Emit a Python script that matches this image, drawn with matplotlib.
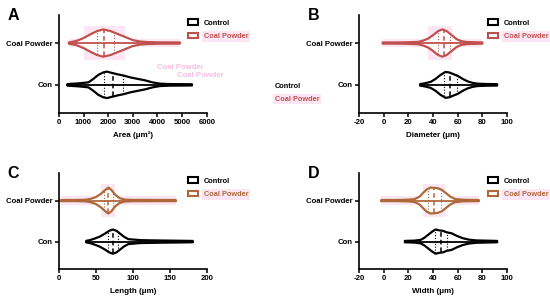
import numpy as np
import matplotlib.pyplot as plt
from matplotlib.patches import Patch, Rectangle

plt.rcParams['font.family'] = ['Liberation Sans', 'DejaVu Sans']
plt.rcParams['font.weight'] = 'bold'
plt.rcParams['axes.unicode_minus'] = False

groups = ['Con', 'Coal Powder']
red = '#c0504d'
brown = '#b0683a'
pink = '#fde6f3'

# violin outlines: value positions and half-widths (px)
area_con_x = [350, 800, 1200, 1400, 1600, 1800, 1950, 2150, 2400, 2600, 2900, 3200, 3500, 3800, 4100, 4500, 5400]
area_con_w = [0.8, 1.5, 2.5, 6, 10, 12.5, 13.3, 12, 10.5, 9.5, 7.5, 6, 4.5, 2.5, 1.2, 0.8, 0.6]
area_cp_x = [400, 700, 1000, 1300, 1550, 1800, 2100, 2400, 2700, 3000, 3300, 3600, 4000, 4900]
area_cp_w = [0.6, 2, 5, 9, 12, 13.7, 12, 9, 6, 3, 1.5, 1, 0.7, 0.6]
area_con_q = [1840, 2200, 2610]
area_cp_q = [1530, 1820, 2240]

dia_con_x = [29.5, 33, 38, 42, 46, 50, 53, 56, 60, 64, 68, 72, 76, 82, 92]
dia_con_w = [0.8, 1.5, 3, 6, 10, 13, 12.5, 11, 9, 6, 3.5, 2, 1.2, 0.9, 0.7]
dia_cp_x = [-1, 10, 20, 28, 32, 36, 40, 44, 47.5, 51, 55, 59, 63, 68, 80]
dia_cp_w = [0.6, 0.6, 0.8, 1.2, 2.5, 4.5, 8, 12, 13.7, 12, 8, 4, 1.8, 1, 0.6]
dia_con_q = [48.5, 54, 59]
dia_cp_q = [44, 48.5, 54]

len_con_x = [37, 42, 48, 55, 62, 68, 73, 78, 83, 88, 94, 110, 130, 150, 181]
len_con_w = [0.8, 1.5, 3, 5, 8, 11, 12.4, 11, 8, 5, 2.5, 1.5, 1.2, 1, 0.7]
len_cp_x = [3, 20, 35, 42, 50, 57, 63, 67, 71, 76, 82, 89, 100, 158]
len_cp_w = [0.6, 0.6, 0.8, 1.5, 3.5, 7, 11, 13.3, 11, 6, 2.5, 1, 0.7, 0.6]
len_con_q = [66.7, 73.4, 80]
len_cp_q = [61.3, 66.7, 73.4]

wid_con_x = [17, 25, 30, 33, 36, 39, 42, 45, 48, 51, 55, 59, 64, 69, 75, 82, 92]
wid_con_w = [0.7, 1, 1.8, 4, 7, 10, 12.4, 11.5, 11, 9.5, 8.5, 6, 3.5, 2, 1.2, 1, 0.7]
wid_cp_x = [-2, 10, 20, 25, 29, 32, 35, 38, 41, 44, 47, 50, 54, 58, 65, 77]
wid_cp_w = [0.6, 0.6, 0.9, 1.5, 4, 8, 11.5, 13.3, 13, 12.5, 11, 8, 4, 1.5, 0.8, 0.6]
wid_con_q = [41.5, 46, 51]
wid_cp_q = [35.7, 41, 46.5]

PX = 42.0  # pixels between the two categories


def violin(ax, pos, xs, ws, qs, color):
    xs = np.array(xs, float)
    hw = np.array(ws, float) / PX
    ax.fill_between(xs, pos - hw, pos + hw, color='white', zorder=2)
    ax.plot(xs, pos + hw, color=color, lw=1.6, zorder=3, solid_capstyle='round')
    ax.plot(xs, pos - hw, color=color, lw=1.6, zorder=3, solid_capstyle='round')
    ax.plot([xs[0], xs[-1]], [pos, pos], color=color, lw=1.3, zorder=3)
    for i, q in enumerate(qs):
        h = np.interp(q, xs, hw) * 0.95
        ls = (0, (3, 2)) if i == 1 else (0, (1, 1.6))
        lw = 1.1 if i == 1 else 0.8
        ax.plot([q, q], [pos - h, pos + h], color=color, lw=lw, ls=ls, zorder=4)


def panel(rect, letter, xlim, xticks, xlabel, con, cp, cpcolor):
    ax = fig.add_axes(rect)
    ax.set_facecolor('none')
    # pink highlight behind the coal powder violin
    ax.add_patch(Rectangle((cp[0][0], 1 - 0.1), cp[0][-1] - cp[0][0], 0.2,
                           color=pink, zorder=0, lw=0))
    lo = cp[0][np.argmax(np.array(cp[1]) > 4)]
    hi = cp[0][len(cp[1]) - 1 - np.argmax(np.array(cp[1])[::-1] > 4)]
    ax.add_patch(Rectangle((lo, 1 - 0.4), hi - lo, 0.8, color=pink, zorder=0, lw=0))
    violin(ax, 0, *con, 'black')
    violin(ax, 1, *cp, cpcolor)
    ax.set_xlim(*xlim)
    ax.set_ylim(-0.67, 1.67)
    ax.set_xticks(xticks)
    ax.set_yticks([0, 1])
    ax.set_yticklabels(groups)
    for s in ['top', 'right']:
        ax.spines[s].set_visible(False)
    for s in ['left', 'bottom']:
        ax.spines[s].set_linewidth(1.2)
    ax.tick_params(labelsize=5.6, width=1.1, length=3, pad=1.5)
    ax.set_xlabel(xlabel, fontsize=5.8, fontweight='bold', labelpad=4)
    ax.text(-0.345, 1.0, letter, transform=ax.transAxes, fontsize=11.5,
            fontweight='bold', ha='left', va='center')
    handles = [Patch(facecolor='white', edgecolor='black', lw=1.5),
               Patch(facecolor='white', edgecolor=cpcolor, lw=1.5)]
    leg = ax.legend(handles, ['Control', 'Coal Powder'], loc='upper left',
                    bbox_to_anchor=(0.85, 0.985), frameon=False, fontsize=5.3,
                    handlelength=1.4, handleheight=0.7, labelspacing=0.85,
                    handletextpad=0.8, borderaxespad=0)
    leg.get_texts()[1].set_color(cpcolor)
    leg.get_texts()[1].set_bbox(dict(facecolor=pink, edgecolor='none', pad=1.2))
    return ax


fig = plt.figure(figsize=(5.5, 3.01), dpi=100)

axA = panel([0.107, 0.625, 0.269, 0.325], 'A', (0, 6000), range(0, 6001, 1000),
            'Area (μm²)', (area_con_x, area_con_w, area_con_q),
            (area_cp_x, area_cp_w, area_cp_q), red)
axB = panel([0.653, 0.625, 0.269, 0.325], 'B', (-20, 100), range(-20, 101, 20),
            'Diameter (μm)', (dia_con_x, dia_con_w, dia_con_q),
            (dia_cp_x, dia_cp_w, dia_cp_q), red)
axC = panel([0.107, 0.106, 0.269, 0.319], 'C', (0, 200), range(0, 201, 50),
            'Length (μm)', (len_con_x, len_con_w, len_con_q),
            (len_cp_x, len_cp_w, len_cp_q), brown)
axD = panel([0.653, 0.106, 0.269, 0.319], 'D', (-20, 100), range(-20, 101, 20),
            'Width (μm)', (wid_con_x, wid_con_w, wid_con_q),
            (wid_cp_x, wid_cp_w, wid_cp_q), brown)

# stray legend copies visible in the source figure
fig.text(0.5, 0.714, 'Control', fontsize=5.3, fontweight='bold', ha='left', va='center')
fig.text(0.5, 0.671, 'Coal Powder', fontsize=5.3, fontweight='bold', ha='left',
         va='center', color=red, bbox=dict(facecolor=pink, edgecolor='none', pad=1.2))
fig.text(0.285, 0.777, 'Coal Powder', fontsize=5.6, fontweight='bold',
         color='#f7bfe2', va='center')
fig.text(0.322, 0.750, 'Coal Powder', fontsize=5.6, fontweight='bold',
         color='#f7bfe2', va='center')

fig.savefig('out.png', dpi=100)
